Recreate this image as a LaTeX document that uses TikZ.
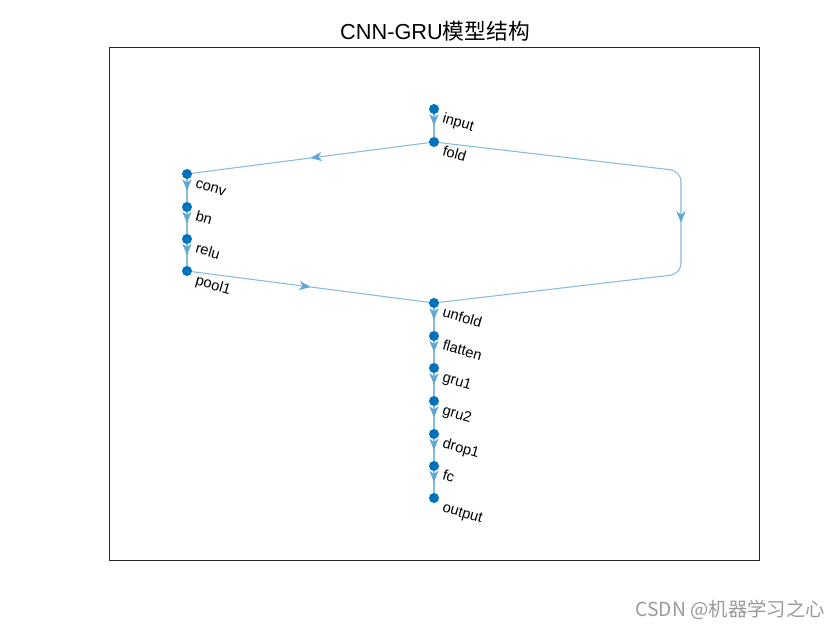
\documentclass[tikz,border=0pt]{standalone}
\usepackage{fontspec}
\setmainfont{Liberation Sans}
\newfontfamily\cjk{Noto Sans CJK SC}
\usetikzlibrary{arrows.meta,decorations.markings}
\definecolor{matblue}{HTML}{0072BD}
\definecolor{edgeblue}{HTML}{86BCE0}
\definecolor{arrowblue}{HTML}{5FA6D8}
\definecolor{axgray}{HTML}{262626}
\definecolor{wmgray}{HTML}{9A9A9A}
\pgfdeclarelayer{bg}
\pgfsetlayers{bg,main}
\begin{document}
\begin{tikzpicture}[x=0.75pt,y=-0.75pt,
  gnode/.style={circle,fill=matblue,draw=none,inner sep=0pt,minimum size=7.5pt},
  lab/.style={font=\fontsize{11}{13}\selectfont,rotate=-16,anchor=base west,inner sep=0pt},
  conn/.style={draw=edgeblue,line width=0.8pt,postaction={decorate},
    decoration={markings,mark=at position 0.5 with {\arrow[arrowblue]{Stealth[length=8.5pt,width=7pt,inset=2.6pt]}}}}]
\useasboundingbox (0,0) rectangle (840,630);
% axes box
\draw[axgray,line width=0.6pt] (109,47.5) rectangle (759,560);
% title
\node[anchor=base,font=\fontsize{16.3}{18}\selectfont,inner sep=0pt] (title) at (435,39.5) {CNN-GRU{\cjk 模型结构}};
% nodes
\node[gnode] (input) at (434,109) {};
\node[gnode] (fold) at (434,142) {};
\node[gnode] (conv) at (187,174) {};
\node[gnode] (bn) at (187,207) {};
\node[gnode] (relu) at (187,239) {};
\node[gnode] (pool1) at (187,271) {};
\node[gnode] (unfold) at (434,303) {};
\node[gnode] (flatten) at (434,336) {};
\node[gnode] (gru1) at (434,368) {};
\node[gnode] (gru2) at (434,401) {};
\node[gnode] (drop1) at (434,434) {};
\node[gnode] (fc) at (434,466) {};
\node[gnode] (output) at (434,498) {};
% labels
\node[lab] (linput) at (441.5,122.5) {input};
\node[lab] (lfold) at (441.5,155.5) {fold};
\node[lab] (lconv) at (194.5,187.5) {conv};
\node[lab] (lbn) at (194.5,220.5) {bn};
\node[lab] (lrelu) at (194.5,252.5) {relu};
\node[lab] (lpool1) at (194.5,284.5) {pool1};
\node[lab] (lunfold) at (441.5,316.5) {unfold};
\node[lab] (lflatten) at (441.5,349.5) {flatten};
\node[lab] (lgru1) at (441.5,381.5) {gru1};
\node[lab] (lgru2) at (441.5,414.5) {gru2};
\node[lab] (ldrop1) at (441.5,447.5) {drop1};
\node[lab] (lfc) at (441.5,479.5) {fc};
\node[lab] (loutput) at (441.5,511.5) {output};
% edges
\begin{pgfonlayer}{bg}
\draw[conn] (input.center) -- (fold.center);
\draw[conn] (fold.center) -- (conv.center);
\draw[conn] (conv.center) -- (bn.center);
\draw[conn] (bn.center) -- (relu.center);
\draw[conn] (relu.center) -- (pool1.center);
\draw[conn] (pool1.center) -- (unfold.center);
\coordinate (rt) at (681,171);
\coordinate (rb) at (681,274);
\draw[conn,rounded corners=8pt] (fold.center) -- (rt) -- (rb) -- (unfold.center);
\draw[conn] (unfold.center) -- (flatten.center);
\draw[conn] (flatten.center) -- (gru1.center);
\draw[conn] (gru1.center) -- (gru2.center);
\draw[conn] (gru2.center) -- (drop1.center);
\draw[conn] (drop1.center) -- (fc.center);
\draw[conn] (fc.center) -- (output.center);
\end{pgfonlayer}
% watermark
\node[anchor=base east,font=\cjk\fontsize{14.5}{16}\selectfont,text=wmgray,inner sep=0pt] (wm) at (825,617) {CSDN @机器学习之心};
\end{tikzpicture}
\end{document}
